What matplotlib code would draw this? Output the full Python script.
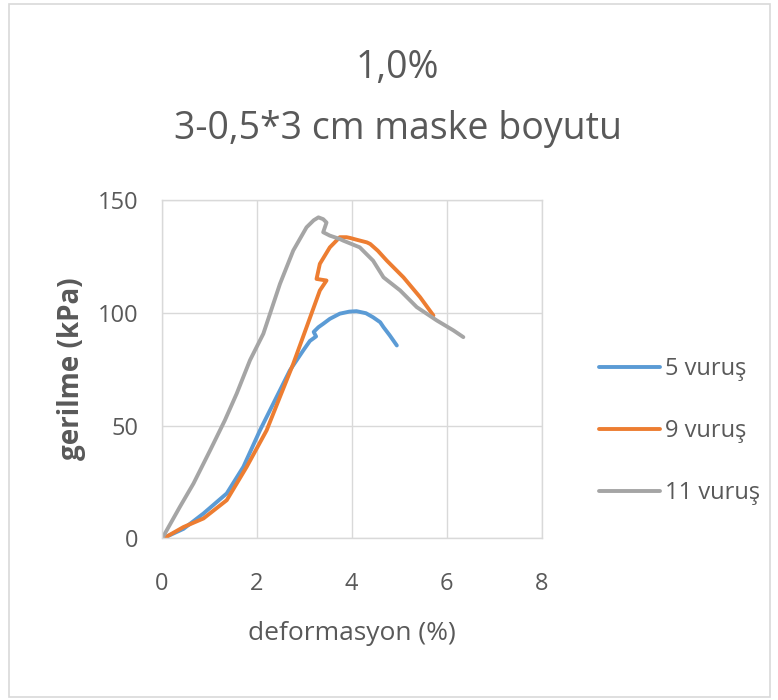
import matplotlib
matplotlib.use("Agg")
import matplotlib.pyplot as plt
from matplotlib.patches import Rectangle

plt.rcParams['font.family'] = ['Open Sans', 'DejaVu Sans']

title_lines = ["1,0%", "3-0,5*3 cm maske boyutu"]
x_label = "deformasyon (%)"
y_label = "gerilme (kPa)"
series_names = ["5 vuruş", "9 vuruş", "11 vuruş"]
colors = ["#5B9BD5", "#ED7D31", "#A5A5A5"]

x5 = [0, 0.1, 0.46, 0.88, 1.37, 1.72, 2.07, 2.42, 2.70, 2.98, 3.12, 3.25, 3.20, 3.30, 3.40, 3.54,
      3.75, 3.95, 4.10, 4.30, 4.45, 4.60, 4.67, 4.80, 4.95]
y5 = [0, 0.7, 4.2, 11.0, 19.9, 31.7, 47.9, 62.7, 74.5, 83.3, 87.5, 89.5, 91.5, 93.6, 95.1, 97.3,
      99.6, 100.5, 100.7, 99.8, 98.0, 95.8, 93.6, 90.0, 85.5]

x9 = [0, 0.1, 0.46, 0.88, 1.37, 1.79, 2.21, 2.49, 2.77, 3.05, 3.33, 3.47, 3.26, 3.33, 3.54, 3.75,
      3.89, 3.96, 4.10, 4.32, 4.39, 4.55, 4.74, 5.09, 5.44, 5.72]
y9 = [0, 0.7, 5.0, 8.8, 16.9, 31.7, 47.9, 62.7, 77.4, 93.6, 109.9, 114.3, 115.0, 121.7, 129.0, 133.5,
      133.5, 133.2, 132.4, 131.2, 130.5, 127.5, 123.1, 115.7, 106.9, 98.8]

x11 = [0, 0.03, 0.385, 0.67, 1.02, 1.33, 1.58, 1.86, 2.14, 2.49, 2.77, 3.05, 3.20, 3.30, 3.40, 3.47,
       3.40, 3.54, 3.75, 3.82, 4.17, 4.45, 4.67, 5.02, 5.37, 5.79, 6.14, 6.35]
y11 = [0, 0.7, 14.0, 24.3, 39.0, 52.3, 64.2, 79.0, 90.7, 112.8, 127.6, 137.9, 141.0, 142.3, 141.5, 140.0,
       135.7, 134.2, 132.7, 132.0, 129.0, 123.1, 115.7, 109.9, 102.5, 96.6, 92.2, 89.2]

x_ticks = [0, 2, 4, 6, 8]
y_ticks = [0, 50, 100, 150]

fig = plt.figure(figsize=(7.78, 7.0), dpi=100)
fig.patches.append(Rectangle((0.012, 0.004), 0.978, 0.99, transform=fig.transFigure,
                             fill=False, edgecolor="#d9d9d9", linewidth=1.2))

ax = fig.add_axes([0.2078, 0.231, 0.4885, 0.4833])
for xs, ys, c, n in zip([x5, x9, x11], [y5, y9, y11], colors, series_names):
    ax.plot(xs, ys, color=c, linewidth=2.8, label=n, solid_capstyle='round',
            solid_joinstyle='round')

ax.set_xlim(0, 8)
ax.set_ylim(0, 150)
ax.set_xticks(x_ticks)
ax.set_yticks(y_ticks)
ax.grid(True, color="#d9d9d9", linewidth=1.0)
ax.set_axisbelow(True)
for s in ax.spines.values():
    s.set_color("#d9d9d9")
    s.set_linewidth(1.0)
ax.tick_params(axis='x', length=0, labelsize=17, labelcolor="#595959", pad=24)
ax.tick_params(axis='y', length=0, labelsize=17, labelcolor="#595959", pad=17)
ax.set_xlabel(x_label, fontsize=19, color="#595959", labelpad=18)
ax.set_ylabel(y_label, fontsize=20, color="#595959", fontweight="bold", labelpad=8)

fig.text(0.511, 0.903, title_lines[0], ha="center", va="center", fontsize=27, color="#595959")
fig.text(0.511, 0.815, title_lines[1], ha="center", va="center", fontsize=27, color="#595959")

leg = ax.legend(loc="center left", bbox_to_anchor=(1.095, 0.317), frameon=False,
                fontsize=17, labelspacing=1.62, handlelength=2.6, handletextpad=0.2)
for t in leg.get_texts():
    t.set_color("#595959")

fig.savefig("out.png", dpi=100)
